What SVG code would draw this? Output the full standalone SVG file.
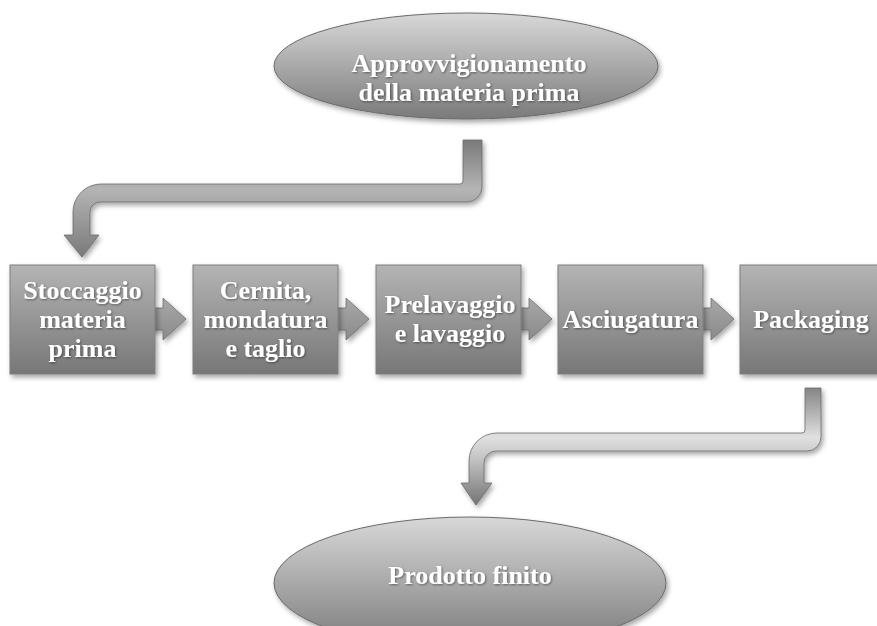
<svg xmlns="http://www.w3.org/2000/svg" width="877" height="626" viewBox="0 0 877 626">
<style>
.lbl{font-family:"Liberation Serif","Times New Roman",serif;font-weight:bold;font-size:26px;fill:#ffffff;text-anchor:middle}
.box{fill:url(#gBox);stroke:#7e7e7e;stroke-width:1}
.ell{stroke:#6a6a6a;stroke-width:1}
.small{fill:url(#gSmall);stroke:#6e6e6e;stroke-width:0.8}
</style>
<defs>
<linearGradient id="gBox" x1="0" y1="0" x2="0" y2="1">
<stop offset="0" stop-color="#b4b4b4"/>
<stop offset="1" stop-color="#777777"/>
</linearGradient>
<linearGradient id="gEll" x1="0" y1="0" x2="0" y2="1">
<stop offset="0" stop-color="#d8d8d8"/>
<stop offset="1" stop-color="#7a7a7a"/>
</linearGradient>
<linearGradient id="gSmall" x1="0" y1="0" x2="0" y2="1">
<stop offset="0" stop-color="#a8a8a8"/>
<stop offset="1" stop-color="#8a8a8a"/>
</linearGradient>
<linearGradient id="gA1" gradientUnits="userSpaceOnUse" x1="0" y1="140" x2="0" y2="257">
<stop offset="0" stop-color="#7a7a7a"/>
<stop offset="0.42" stop-color="#b4b4b4"/>
<stop offset="0.58" stop-color="#a4a4a4"/>
<stop offset="1" stop-color="#7a7a7a"/>
</linearGradient>
<linearGradient id="gA2" gradientUnits="userSpaceOnUse" x1="0" y1="388" x2="0" y2="505">
<stop offset="0" stop-color="#858585"/>
<stop offset="0.42" stop-color="#e0e0e0"/>
<stop offset="0.6" stop-color="#c4c4c4"/>
<stop offset="1" stop-color="#747474"/>
</linearGradient>
<filter id="sh" x="-10%" y="-10%" width="125%" height="130%">
<feDropShadow dx="2" dy="3" stdDeviation="2.5" flood-color="#000" flood-opacity="0.35"/>
</filter>
<filter id="tsh" x="-5%" y="-20%" width="110%" height="150%">
<feDropShadow dx="1" dy="1" stdDeviation="0.8" flood-color="#000" flood-opacity="0.45"/>
</filter>
</defs>

<g id="connectors">
<path id="bent1" filter="url(#sh)" fill="url(#gA1)" stroke="#6a6a6a" stroke-width="0.8" d="M463,140 H482 V187 A15,15 0 0 1 467,202 H100 A10,10 0 0 0 90,212 V235 H99 L82,257 L64,235 H73 V212 A28,28 0 0 1 101,184 H460 A3,3 0 0 0 463,181 Z"/>
<path id="bent2" filter="url(#sh)" fill="url(#gA2)" stroke="#6a6a6a" stroke-width="0.8" d="M805,388 H821 V437 A14,14 0 0 1 807,451 H496 A12,12 0 0 0 484,463 V483 H492 L476,505 L461,483 H469 V461 A28,28 0 0 1 497,433 H802 A3,3 0 0 0 805,430 Z"/>
<path class="small" filter="url(#sh)" d="M150,308 H163 V298 L186,319 L163,340 V330 H150 Z"/>
<path class="small" filter="url(#sh)" d="M333,308 H346 V298 L369,319 L346,340 V330 H333 Z"/>
<path class="small" filter="url(#sh)" d="M516,308 H529 V298 L552,319 L529,340 V330 H516 Z"/>
<path class="small" filter="url(#sh)" d="M698,308 H711 V298 L734,319 L711,340 V330 H698 Z"/>
</g>

<g id="n-approvvigionamento">
<ellipse class="ell" cx="466" cy="66" rx="192" ry="53" fill="url(#gEll)" filter="url(#sh)"/>
<text class="lbl" filter="url(#tsh)" x="469" y="72">Approvvigionamento</text>
<text class="lbl" filter="url(#tsh)" x="469" y="101">della materia prima</text>
</g>

<g id="n-stoccaggio">
<rect class="box" x="10" y="265" width="145" height="109" filter="url(#sh)"/>
<text class="lbl" filter="url(#tsh)" x="82.5" y="299">Stoccaggio</text>
<text class="lbl" filter="url(#tsh)" x="82.5" y="328">materia</text>
<text class="lbl" filter="url(#tsh)" x="82.5" y="357">prima</text>
</g>

<g id="n-cernita">
<rect class="box" x="193" y="265" width="145" height="109" filter="url(#sh)"/>
<text class="lbl" filter="url(#tsh)" x="265.5" y="299">Cernita,</text>
<text class="lbl" filter="url(#tsh)" x="265.5" y="328">mondatura</text>
<text class="lbl" filter="url(#tsh)" x="265.5" y="357">e taglio</text>
</g>

<g id="n-prelavaggio">
<rect class="box" x="376" y="265" width="145" height="109" filter="url(#sh)"/>
<text class="lbl" filter="url(#tsh)" x="450" y="313">Prelavaggio</text>
<text class="lbl" filter="url(#tsh)" x="450" y="342">e lavaggio</text>
</g>

<g id="n-asciugatura">
<rect class="box" x="558" y="265" width="145" height="109" filter="url(#sh)"/>
<text class="lbl" filter="url(#tsh)" x="630.5" y="328">Asciugatura</text>
</g>

<g id="n-packaging">
<rect class="box" x="740" y="265" width="145" height="109" filter="url(#sh)"/>
<text class="lbl" filter="url(#tsh)" x="811" y="328">Packaging</text>
</g>

<g id="n-prodotto">
<ellipse class="ell" cx="470" cy="583" rx="196" ry="66" fill="url(#gEll)" filter="url(#sh)"/>
<text class="lbl" filter="url(#tsh)" x="470" y="584">Prodotto finito</text>
</g>
</svg>
